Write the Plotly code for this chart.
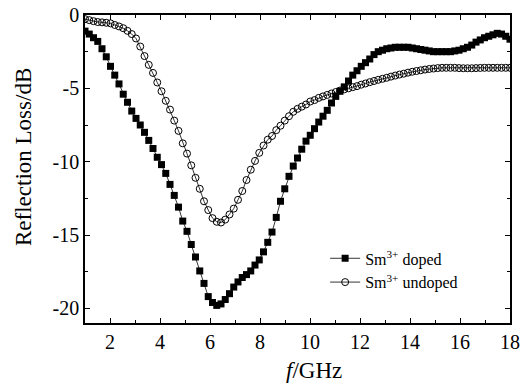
import plotly.graph_objects as go

freq = [1.00, 1.17, 1.34, 1.51, 1.68, 1.85, 2.02, 2.19, 2.36, 2.53,
        2.70, 2.87, 3.04, 3.21, 3.38, 3.55, 3.72, 3.89, 4.06, 4.23,
        4.40, 4.57, 4.74, 4.91, 5.08, 5.25, 5.42, 5.59, 5.76, 5.93,
        6.10, 6.27, 6.44, 6.61, 6.78, 6.95, 7.12, 7.29, 7.46, 7.63,
        7.80, 7.97, 8.14, 8.31, 8.48, 8.65, 8.82, 8.99, 9.16, 9.33,
        9.50, 9.67, 9.84, 10.01, 10.18, 10.35, 10.52, 10.69, 10.86, 11.03,
        11.20, 11.37, 11.54, 11.71, 11.88, 12.05, 12.22, 12.39, 12.56, 12.73,
        12.90, 13.07, 13.24, 13.41, 13.58, 13.75, 13.92, 14.09, 14.26, 14.43,
        14.60, 14.77, 14.94, 15.11, 15.28, 15.45, 15.62, 15.79, 15.96, 16.13,
        16.30, 16.47, 16.64, 16.81, 16.98, 17.15, 17.32, 17.49, 17.66, 17.83,
        18.00]

doped = [-1.1, -1.3, -1.55, -1.8, -2.3, -2.85, -3.5, -4.1, -4.7, -5.4,
         -5.95, -6.55, -7.05, -7.5, -8.0, -8.55, -9.1, -9.7, -10.2, -10.8,
         -11.55, -12.3, -13.1, -14.05, -14.75, -15.65, -16.5, -17.45, -18.3, -19.2,
         -19.6, -19.8, -19.7, -19.4, -19.0, -18.55, -18.2, -17.9, -17.7, -17.45,
         -17.05, -16.7, -16.15, -15.5, -14.8, -13.8, -12.7, -11.85, -11.0, -10.3,
         -9.75, -9.15, -8.6, -8.2, -7.75, -7.3, -6.9, -6.5, -6.0, -5.55,
         -5.2, -4.9, -4.5, -4.1, -3.8, -3.5, -3.25, -3.0, -2.7, -2.5,
         -2.4, -2.3, -2.25, -2.2, -2.2, -2.2, -2.2, -2.25, -2.3, -2.35,
         -2.4, -2.45, -2.5, -2.5, -2.5, -2.5, -2.5, -2.45, -2.4, -2.3,
         -2.2, -2.05, -1.85, -1.7, -1.55, -1.45, -1.35, -1.25, -1.3, -1.45,
         -1.65]

undoped = [-0.28, -0.35, -0.42, -0.48, -0.5, -0.53, -0.57, -0.68, -0.78, -0.9,
           -1.08, -1.3, -1.6, -2.15, -2.8, -3.4, -3.95, -4.6, -5.2, -5.85,
           -6.45, -7.2, -7.9, -8.75, -9.45, -10.25, -11.1, -11.85, -12.7, -13.3,
           -13.85, -14.1, -14.15, -13.95, -13.6, -13.2, -12.6, -12.0, -11.25, -10.55,
           -9.95, -9.4, -8.9, -8.5, -8.25, -7.85, -7.55, -7.2, -6.9, -6.6,
           -6.4, -6.25, -6.1, -5.9, -5.8, -5.65, -5.55, -5.45, -5.35, -5.25,
           -5.15, -5.07, -5.0, -4.92, -4.85, -4.75, -4.67, -4.58, -4.5, -4.42,
           -4.35, -4.28, -4.2, -4.13, -4.06, -4.0, -3.93, -3.87, -3.82, -3.77,
           -3.72, -3.68, -3.65, -3.62, -3.6, -3.6, -3.6, -3.6, -3.62, -3.63,
           -3.63, -3.63, -3.62, -3.61, -3.6, -3.6, -3.6, -3.6, -3.6, -3.6,
           -3.6]

x_ticks = [2, 4, 6, 8, 10, 12, 14, 16, 18]
x_labels = ["2", "4", "6", "8", "10", "12", "14", "16", "18"]
y_ticks = [0, -5, -10, -15, -20]
y_labels = ["0", "-5", "-10", "-15", "-20"]

names = ["Sm<sup>3+</sup> doped", "Sm<sup>3+</sup> undoped"]
x_title = "<i>f</i>/GHz"
y_title = "Reflection Loss/dB"

FONT = "Liberation Serif, Times New Roman, serif"

fig = go.Figure()
fig.add_trace(go.Scatter(
    x=freq, y=doped, mode="lines+markers", name=names[0],
    line=dict(color="black", width=0.8),
    marker=dict(symbol="square", size=7, color="black", line=dict(width=0)),
))
fig.add_trace(go.Scatter(
    x=freq, y=undoped, mode="lines+markers", name=names[1],
    line=dict(color="black", width=0.8),
    marker=dict(symbol="circle-open", size=7, color="black", line=dict(width=1)),
))

axis_common = dict(
    showline=True, linecolor="black", linewidth=1.5, mirror="ticks",
    ticks="inside", ticklen=5, tickwidth=1.2, tickcolor="black",
    showgrid=False, zeroline=False, automargin=False,
    tickfont=dict(family=FONT, size=20, color="black"),
)

fig.update_xaxes(
    range=[1, 18], tickmode="array", tickvals=x_ticks, ticktext=x_labels,
    minor=dict(dtick=1, tick0=1, ticks="inside", ticklen=3, tickwidth=1, tickcolor="black", showgrid=False),
    **axis_common,
)
fig.update_yaxes(
    range=[-21, 0], tickmode="array", tickvals=y_ticks, ticktext=y_labels,
    minor=dict(dtick=2.5, tick0=0, ticks="inside", ticklen=3, tickwidth=1, tickcolor="black", showgrid=False),
    **axis_common,
)

fig.add_annotation(
    text=x_title, xref="paper", yref="paper", x=0.539, y=-0.153,
    xanchor="center", yanchor="middle", showarrow=False,
    font=dict(family=FONT, size=23, color="black"),
)
fig.add_annotation(
    text=y_title, xref="paper", yref="paper", x=-0.1435, y=0.539,
    xanchor="center", yanchor="middle", showarrow=False, textangle=-90,
    font=dict(family=FONT, size=23, color="black"),
)

fig.update_layout(
    width=528, height=388,
    margin=dict(l=85, r=18, t=15, b=65),
    plot_bgcolor="white", paper_bgcolor="white",
    font=dict(family=FONT, color="black"),
    legend=dict(
        x=0.565, y=0.265, xanchor="left", yanchor="top",
        bgcolor="rgba(0,0,0,0)", borderwidth=0,
        font=dict(family=FONT, size=16, color="black"),
        itemsizing="trace", tracegroupgap=0,
    ),
    showlegend=True,
)

fig.write_html("out.html", config={"displayModeBar": False},
               post_script="document.body.style.margin='0';document.body.style.padding='0';")
